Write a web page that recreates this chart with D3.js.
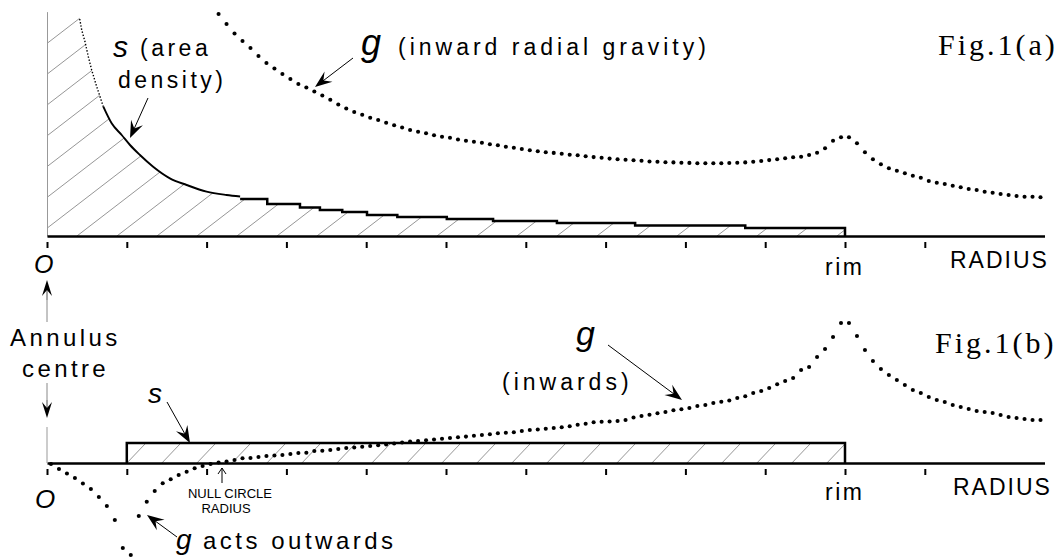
<!DOCTYPE html>
<html><head><meta charset="utf-8">
<script src="https://cdn.jsdelivr.net/npm/d3@7"></script>
<style>
html,body{margin:0;padding:0;background:#fff;}
svg{display:block;}
text{font-family:"Liberation Sans",Arial,sans-serif;fill:#000;}
</style></head><body>
<svg id="chart" width="1061" height="560"></svg>
<script>
// ---------------- data ----------------
const tickRadii = [0,1,2,3,4,5,6,7,8,9,10,11];
const originLabel = "O";
const rimLabel = "rim";
const axisTitle = "RADIUS";
const rimRadius = 10;
const innerRadius = 1;          // inner edge of the annulus in Fig.1(b)
const gStep = 0.1;               // radial sampling step of the dotted g curves

// Fig.1(a): inward radial gravity, first sample at r = 2.15
const gTopFirst = 2.15;
const gTopValues = [
 22.2, 21.2, 20.25, 19.5, 18.8, 18.0, 17.3, 16.75, 16.2, 15.7,
 15.2, 14.85, 14.45, 14.05, 13.62, 13.15, 12.75, 12.4, 12.12, 11.82,
 11.6, 11.33, 11.07, 10.85, 10.6, 10.42, 10.28, 10.08, 9.92, 9.82,
 9.65, 9.52, 9.42, 9.32, 9.18, 9.08, 8.93, 8.82, 8.7, 8.57,
 8.48, 8.38, 8.31, 8.23, 8.12, 8.07, 7.98, 7.89, 7.83, 7.74,
 7.68, 7.62, 7.58, 7.53, 7.45, 7.42, 7.38, 7.36, 7.33, 7.31,
 7.28, 7.27, 7.27, 7.28, 7.3, 7.32, 7.36, 7.42, 7.5, 7.59,
 7.67, 7.77, 7.87, 7.93, 8.1, 8.33, 8.77, 9.53, 9.87, 9.87,
 9.27, 8.37, 7.67, 7.17, 6.77, 6.53, 6.27, 6.03, 5.83, 5.5,
 5.33, 5.2, 5.03, 4.87, 4.7, 4.6, 4.43, 4.33, 4.2, 4.1,
 4.0, 3.93, 3.93, 3.87
];

// Fig.1(b): gravity of the uniform annulus, first sample at r = 0.05
const gBottomFirst = 0.05;
const gBottomValues = [
 -0.1, -0.6, -1.05, -1.5, -2.05, -2.6, -3.4, -4.3, -5.7, -8.5,
 -9.2, -5.3, -3.87, -2.8, -2.03, -1.63, -1.2, -0.87, -0.53, -0.3,
 -0.1, 0.05, 0.15, 0.3, 0.47, 0.5, 0.6, 0.7, 0.75, 0.8,
 0.9, 1.0, 1.03, 1.2, 1.23, 1.3, 1.4, 1.5, 1.55, 1.63,
 1.7, 1.77, 1.85, 1.95, 2.05, 2.15, 2.2, 2.27, 2.35, 2.42,
 2.5, 2.57, 2.64, 2.73, 2.8, 2.87, 2.97, 3.02, 3.08, 3.2,
 3.3, 3.35, 3.43, 3.5, 3.57, 3.67, 3.83, 3.92, 4.07, 4.12,
 4.15, 4.2, 4.3, 4.55, 4.7, 4.82, 4.97, 5.1, 5.27, 5.37,
 5.5, 5.7, 5.8, 6.0, 6.13, 6.25, 6.5, 6.67, 7.0, 7.2,
 7.5, 7.87, 8.2, 8.5, 9.3, 9.6, 10.6, 11.4, 12.6, 14.0,
 14.0, 12.7, 11.3, 10.2, 9.4, 8.8, 8.3, 7.8, 7.3, 7.0,
 6.6, 6.3, 6.1, 5.8, 5.6, 5.4, 5.2, 5.1, 5.0, 4.8,
 4.6, 4.5, 4.4, 4.3, 4.3
];

// Fig.1(a): area density s — smooth steep part, then stepped part
const sTopCurveR = [0.41, 0.435, 0.476, 0.518, 0.56, 0.623, 0.706, 0.81, 0.936, 1.04, 1.165, 1.33, 1.54, 1.75, 2.0, 2.25, 2.42];
const sTopCurveV = [21.7, 20.6, 19.43, 17.93, 16.6, 14.93, 12.93, 11.27, 10.1, 9.1, 8.1, 6.93, 5.77, 5.1, 4.43, 4.1, 3.95];
const sTopStepR  = [2.42, 2.76, 3.17, 3.42, 3.70, 4.01, 4.39, 5.01, 5.59, 6.39, 7.37, 8.75];
const sTopStepV  = [3.7, 3.2, 2.85, 2.6, 2.4, 2.1, 1.9, 1.7, 1.5, 1.3, 1.05, 0.8];
// Fig.1(b): uniform area density
const sBottomValue = 2.0;

// ---------------- layout ----------------
const svg = d3.select("#chart");
const W = 1061, H = 560;
svg.append("rect").attr("width", W).attr("height", H).attr("fill", "#fff");

const x  = d3.scaleLinear().domain([0, 12.5]).range([47, 1044.5]);
const yA = d3.scaleLinear().domain([0, 22.4]).range([236, 12]);
const yB = d3.scaleLinear().domain([-10, 22.4]).range([563, 239]);

const defs = svg.append("defs");

// ---------- Fig.1(a) hatched area under s ----------
const curvePts = sTopCurveR.map((r, i) => [r, sTopCurveV[i]]);
const stepPts = [];
sTopStepR.forEach((r, i) => {
  const next = i < sTopStepR.length - 1 ? sTopStepR[i + 1] : rimRadius;
  stepPts.push([r, sTopStepV[i]], [next, sTopStepV[i]]);
});
const areaPts = [[0, yA.domain()[1]], [sTopCurveR[0], yA.domain()[1]], ...curvePts, ...stepPts];
const areaA = d3.area().x(d => x(d[0])).y0(yA(0)).y1(d => yA(d[1]));
defs.append("clipPath").attr("id", "clipA").append("path").attr("d", areaA(areaPts));

const hatchA = svg.append("g").attr("clip-path", "url(#clipA)");
const slopeA = 0.77, spacingA = 40, anchorA = x(0.375);
d3.range(-9, 22).forEach(k => {
  const xb = anchorA + k * spacingA;
  hatchA.append("line").attr("x1", xb).attr("y1", yA(0))
    .attr("x2", xb + 320).attr("y2", yA(0) - slopeA * 320)
    .attr("stroke", "#8a8a8a").attr("stroke-width", 0.9);
});

// ---------- Fig.1(b) hatched annulus ----------
const rectPts = [[innerRadius, 0], [innerRadius, sBottomValue], [rimRadius, sBottomValue], [rimRadius, 0]];
defs.append("clipPath").attr("id", "clipB").append("rect")
  .attr("x", x(innerRadius)).attr("y", yB(sBottomValue))
  .attr("width", x(rimRadius) - x(innerRadius)).attr("height", yB(0) - yB(sBottomValue));
const hatchB = svg.append("g").attr("clip-path", "url(#clipB)");
const slopeB = 1.05, spacingB = 35, anchorB = x(4.51);
d3.range(-12, 16).forEach(k => {
  const xb = anchorB + k * spacingB;
  hatchB.append("line").attr("x1", xb).attr("y1", yB(0))
    .attr("x2", xb + 40).attr("y2", yB(0) - slopeB * 40)
    .attr("stroke", "#8a8a8a").attr("stroke-width", 0.9);
});

// ---------- axes ----------
function radiusAxis(baseY) {
  const ax = svg.append("g").attr("transform", `translate(0,${baseY})`)
    .call(d3.axisBottom(x).tickValues(tickRadii).tickSize(12).tickSizeOuter(0).tickFormat(""));
  ax.select(".domain").attr("stroke", "#000").attr("stroke-width", 2.5);
  ax.selectAll(".tick line").attr("y1", 6).attr("stroke", "#000").attr("stroke-width", 2);
  return ax;
}
// vertical axis of Fig.1(a)
const yAx = svg.append("g").attr("transform", `translate(${x(0)},0)`)
  .call(d3.axisLeft(yA).tickValues([]).tickSizeOuter(0));
yAx.select(".domain").attr("stroke", "#999").attr("stroke-width", 1);

// ---------- s lines ----------
const lineA = d3.line().x(d => x(d[0])).y(d => yA(d[1]));
const lineB = d3.line().x(d => x(d[0])).y(d => yB(d[1]));
const steepEnd = 7;
svg.append("path").attr("d", lineA(curvePts.slice(0, steepEnd)))
  .attr("fill", "none").attr("stroke", "#000").attr("stroke-width", 1.4)
  .attr("stroke-dasharray", "1.4 1.8");
svg.append("path").attr("d", lineA.curve(d3.curveMonotoneX)(curvePts.slice(steepEnd - 1)))
  .attr("fill", "none").attr("stroke", "#000").attr("stroke-width", 1.9);
lineA.curve(d3.curveLinear);
svg.append("path").attr("d", lineA([...stepPts, [rimRadius, 0]]))
  .attr("fill", "none").attr("stroke", "#000").attr("stroke-width", 2.5);

svg.append("path").attr("d", lineB(rectPts))
  .attr("fill", "none").attr("stroke", "#000").attr("stroke-width", 2.5);

radiusAxis(yA(0));
radiusAxis(yB(0));

// ---------- g dots ----------
svg.append("g").selectAll("circle").data(gTopValues).join("circle")
  .attr("cx", (d, i) => x(gTopFirst + i * gStep)).attr("cy", d => yA(d))
  .attr("r", 2.05).attr("fill", "#000");
svg.append("g").selectAll("circle").data(gBottomValues).join("circle")
  .attr("cx", (d, i) => x(gBottomFirst + i * gStep)).attr("cy", d => yB(d))
  .attr("r", 2.05).attr("fill", "#000");

// ---------- annotation helpers ----------
function label(txt, px, py, o = {}) {
  const t = svg.append("text").attr("x", px).attr("y", py).text(txt)
    .attr("font-size", (o.size || 23) + "px")
    .attr("letter-spacing", o.ls === undefined ? 0 : o.ls);
  if (o.italic) t.attr("font-style", "italic");
  if (o.anchor) t.attr("text-anchor", o.anchor);
  if (o.serif) t.style("font-family", '"Liberation Serif","Times New Roman",serif');
  return t;
}
function arrow(x1, y1, x2, y2, o = {}) {
  const L = o.len || 17, Wd = o.half || 6.5, notch = o.notch || 0.62;
  const dx = x2 - x1, dy = y2 - y1, d = Math.hypot(dx, dy);
  const ux = dx / d, uy = dy / d, nx = -uy, ny = ux;
  svg.append("line").attr("x1", x1).attr("y1", y1)
    .attr("x2", x2 - ux * L * 0.5).attr("y2", y2 - uy * L * 0.5)
    .attr("stroke", o.color || "#000").attr("stroke-width", o.sw || 1);
  const bx = x2 - ux * L, by = y2 - uy * L;
  const p = [[x2, y2], [bx + nx * Wd, by + ny * Wd],
             [x2 - ux * L * notch, y2 - uy * L * notch], [bx - nx * Wd, by - ny * Wd]];
  svg.append("path").attr("d", "M" + p.map(q => q.join(",")).join("L") + "Z").attr("fill", "#000");
}

// ---------- Fig.1(a) texts ----------
label("s", 113, 57, {size: 30, italic: true});
label("(area", 140, 56, {ls: 3.5});
label("density)", 118, 88, {ls: 3.5});
arrow(148, 98, 130, 138);
label("g", 361, 55, {size: 36, italic: true});
label("(inward radial gravity)", 398, 55, {ls: 4});
arrow(353, 58, 315, 87);
label("Fig.1(a)", 938, 55, {size: 30, ls: 3, serif: true});
label(originLabel, 34, 273, {size: 25, italic: true});
label(rimLabel, 825, 275, {ls: 2.5});
label(axisTitle, 950, 268, {ls: 2});

// ---------- annulus centre pointers ----------
svg.append("line").attr("x1", x(0)).attr("y1", 290).attr("x2", x(0)).attr("y2", 322)
  .attr("stroke", "#888").attr("stroke-width", 1);
arrow(x(0), 300, x(0), 280, {len: 16, half: 5, color: "#888"});
svg.append("line").attr("x1", x(0)).attr("y1", 383).attr("x2", x(0)).attr("y2", 410)
  .attr("stroke", "#888").attr("stroke-width", 1);
arrow(x(0), 400, x(0), 418, {len: 16, half: 5, color: "#888"});
svg.append("line").attr("x1", x(0)).attr("y1", 427).attr("x2", x(0)).attr("y2", yB(0))
  .attr("stroke", "#999").attr("stroke-width", 1);
label("Annulus", 10, 346, {size: 24, ls: 3.4});
label("centre", 22, 377, {size: 24, ls: 3.4});

// ---------- Fig.1(b) texts ----------
label("Fig.1(b)", 935, 353, {size: 30, ls: 3, serif: true});
label("g", 576, 345, {size: 34, italic: true});
label("(inwards)", 502, 390, {ls: 4});
arrow(608, 345, 682, 400);
label("s", 148, 403, {size: 28, italic: true});
arrow(167, 402, 190, 443);
label(originLabel, 35, 508, {size: 26, italic: true});
label(rimLabel, 825, 500, {ls: 2.5});
label(axisTitle, 953, 495, {ls: 2});
label("NULL CIRCLE", 230, 498, {size: 13, anchor: "middle"});
label("RADIUS", 226, 513, {size: 13, anchor: "middle"});
svg.append("path").attr("d", "M222,483V468M218,474L222,468L226,474")
  .attr("fill", "none").attr("stroke", "#000").attr("stroke-width", 1);
label("g", 176, 549, {size: 28, italic: true});
label("acts outwards", 203, 549, {size: 24, ls: 3.5});
arrow(177, 537, 147, 515);
</script>
</body></html>
